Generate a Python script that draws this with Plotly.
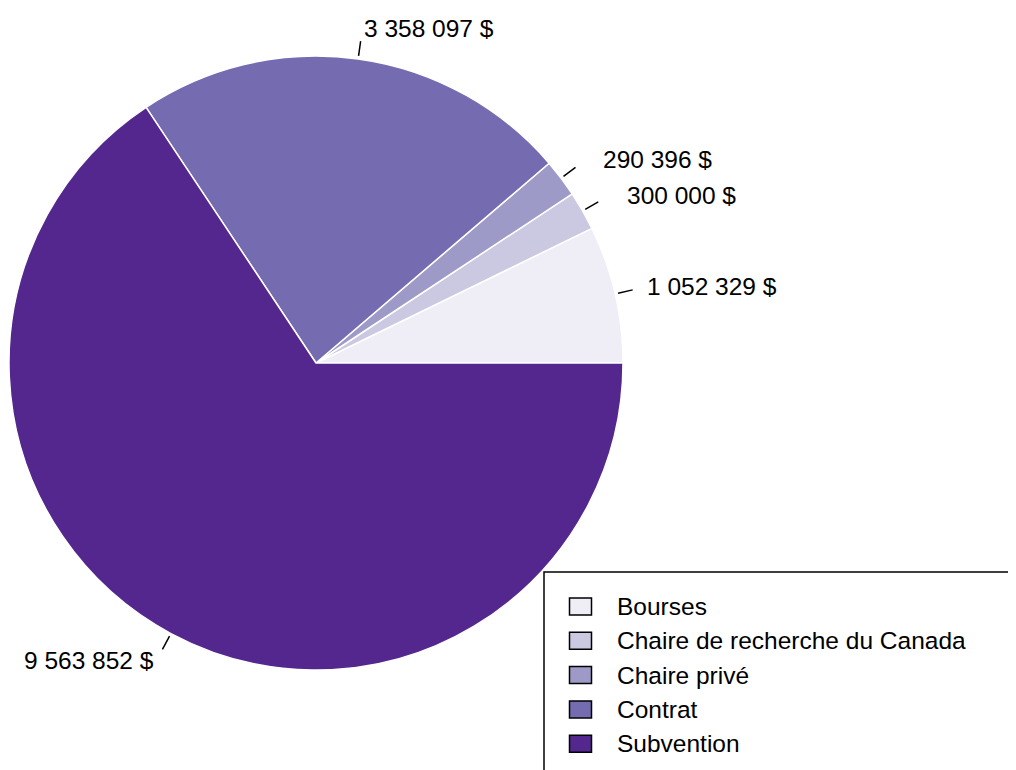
import math
import plotly.graph_objects as go

labels = ["Bourses", "Chaire de recherche du Canada", "Chaire privé", "Contrat", "Subvention"]
values = [1052329, 300000, 290396, 3358097, 9563852]
colors = ["#efedf5", "#cbc9e2", "#9e9ac8", "#756bb1", "#54278f"]

OFF = 8  # page body margin
W, H = 1016 - OFF, 770 - OFF
cx, cy, R = 316, 363, 307  # pie centre / radius in screen pixels (layout)
FS = 24.5


def px(x):
    return (x - OFF) / W


def py(y):
    return 1 - (y - OFF) / H


def fmt(v):
    return f"{v:,}".replace(",", " ") + " $"


total = sum(values)
first_deg = 360 * values[0] / total

fig = go.Figure()
fig.add_trace(go.Pie(
    labels=labels, values=values, sort=False, direction="counterclockwise",
    rotation=90 - first_deg, textinfo="none", hoverinfo="label+value",
    marker=dict(colors=colors, line=dict(color="white", width=1.5)),
    domain=dict(x=[px(cx - R), px(cx + R)], y=[py(cy + R), py(cy - R)]),
    showlegend=False,
))

cum = 0
shapes = []
annotations = []
for v in values:
    mid = (cum + v / 2) / total * 2 * math.pi
    cum += v
    c, s = math.cos(mid), math.sin(mid)
    shapes.append(dict(type="line", xref="paper", yref="paper",
                       x0=px(cx + 310 * c), y0=py(cy - 310 * s),
                       x1=px(cx + 325 * c), y1=py(cy - 325 * s),
                       line=dict(color="black", width=1.5)))
    nudge = 15 if v / total < 0.03 else 0  # push labels of thin slices sideways
    annotations.append(dict(xref="paper", yref="paper",
                            x=px(cx + 338 * c + nudge), y=py(cy - 338 * s),
                            text=fmt(v), showarrow=False,
                            xanchor="left" if c >= 0 else "right", yanchor="middle",
                            font=dict(size=FS, color="black")))

# legend frame
shapes.append(dict(type="rect", xref="paper", yref="paper",
                   x0=px(544), y0=-0.05, x1=1.05, y1=py(572),
                   line=dict(color="black", width=1.5), fillcolor="rgba(0,0,0,0)"))

# legend entries
for i, (lab, col) in enumerate(zip(labels, colors)):
    yc = 606.5 + 34.3 * i
    shapes.append(dict(type="rect", xref="paper", yref="paper",
                       x0=px(569.5), x1=px(591.5), y0=py(yc + 8.5), y1=py(yc - 8.5),
                       line=dict(color="black", width=1.5), fillcolor=col))
    annotations.append(dict(xref="paper", yref="paper", x=px(615), y=py(yc),
                            text=lab, showarrow=False, xanchor="left", yanchor="middle",
                            font=dict(size=FS, color="black")))

fig.update_layout(
    width=W, height=H, margin=dict(l=0, r=0, t=0, b=0),
    paper_bgcolor="white", plot_bgcolor="white",
    font=dict(family="Liberation Sans, Arial, sans-serif", color="black"),
    shapes=shapes, annotations=annotations,
)
fig.write_html("out.html")
